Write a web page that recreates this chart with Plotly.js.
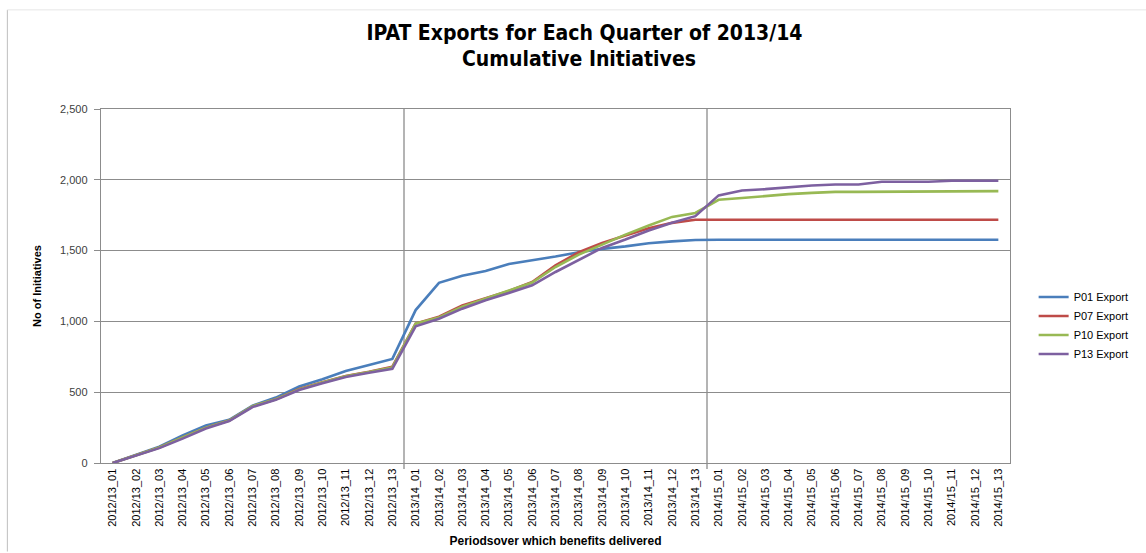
<!DOCTYPE html>
<html>
<head>
<meta charset="utf-8">
<script src="https://cdn.plot.ly/plotly-3.0.1.min.js"></script>
<style>
html,body{margin:0;padding:0;background:#fff;}
#chart{width:1146px;height:553px;}
</style>
</head>
<body>
<div id="chart"></div>
<script>
const categories = [
  "2012/13_01","2012/13_02","2012/13_03","2012/13_04","2012/13_05","2012/13_06","2012/13_07",
  "2012/13_08","2012/13_09","2012/13_10","2012/13_11","2012/13_12","2012/13_13",
  "2013/14_01","2013/14_02","2013/14_03","2013/14_04","2013/14_05","2013/14_06","2013/14_07",
  "2013/14_08","2013/14_09","2013/14_10","2013/14_11","2013/14_12","2013/14_13",
  "2014/15_01","2014/15_02","2014/15_03","2014/15_04","2014/15_05","2014/15_06","2014/15_07",
  "2014/15_08","2014/15_09","2014/15_10","2014/15_11","2014/15_12","2014/15_13"
];
const seriesNames = ["P01 Export","P07 Export","P10 Export","P13 Export"];
const p01 = [0,55,115,195,265,305,405,462,540,592,650,692,735,
  1080,1272,1322,1356,1406,1430,1458,1488,1512,1530,1552,1565,1575,
  1577,1577,1577,1577,1577,1577,1577,1577,1577,1577,1577,1577,1577];
const p07 = [0,55,110,180,250,300,400,450,522,570,615,645,680,
  985,1033,1113,1163,1215,1278,1396,1488,1554,1606,1658,1696,1718,
  1718,1718,1718,1718,1718,1718,1718,1718,1718,1718,1718,1718,1718];
const p10 = [0,55,110,180,250,300,402,450,520,568,612,642,675,
  985,1028,1103,1160,1213,1275,1384,1472,1542,1613,1677,1738,1766,
  1859,1871,1887,1899,1908,1915,1915,1915,1915,1915,1920,1920,1920];
const p13 = [0,50,105,172,243,296,395,446,516,563,608,638,665,
  965,1019,1090,1149,1200,1255,1349,1436,1519,1578,1642,1696,1743,
  1890,1925,1934,1948,1960,1967,1967,1986,1986,1986,1993,1993,1993];
const quarterBreaks = [12.5, 25.5];
const colors = ["#4a7ebb","#be4b48","#98b954","#7d60a0"];
const titleLine1 = 'IPAT Exports for Each Quarter of 2013/14';
const titleLine2 = 'Cumulative Initiatives';

const idx = categories.map((c,i)=>i);
const data = [p01,p07,p10,p13].map((v,k)=>({
  x: idx, y: v, type:'scatter', mode:'lines', name: seriesNames[k],
  line:{color:colors[k], width:2.6}
}));

const shapes = quarterBreaks.map(b=>({
  type:'line', xref:'x', yref:'paper', x0:b, x1:b, y0:-0.017, y1:1,
  line:{color:'#8c8c8c', width:1.3}, layer:'below'
}));
// outer chart frame
shapes.push({type:'line', xref:'paper', yref:'paper', x0:-0.103, x1:-0.103, y0:-0.25, y1:1.28,
  line:{color:'#bfbfbf', width:1}});
shapes.push({type:'line', xref:'paper', yref:'paper', x0:-0.103, x1:1.15, y0:1.28, y1:1.28,
  line:{color:'#e6e6e6', width:1}});

const titleFont = {family:'"DejaVu Sans Condensed","Liberation Sans Narrow",Arial,sans-serif', size:21, color:'#000', weight:'bold'};

const layout = {
  width:1146, height:553,
  margin:{l:101, r:133, t:109, b:90},
  paper_bgcolor:'#ffffff', plot_bgcolor:'#ffffff',
  title:{text:titleLine1, x:0.51, xanchor:'center', y:0.941, yanchor:'middle', font:titleFont},
  annotations:[{text:titleLine2, xref:'paper', yref:'paper', x:0.526, y:1.14,
    xanchor:'center', yanchor:'middle', showarrow:false, font:titleFont}],
  showlegend:true,
  legend:{x:1.026, xanchor:'left', y:0.51, yanchor:'top', bgcolor:'rgba(0,0,0,0)',
    font:{family:'"Liberation Sans",Arial,sans-serif', size:11, color:'#000'}, itemwidth:30, tracegroupgap:0},
  xaxis:{
    range:[-0.5, 38.5], tickmode:'array', tickvals:idx, ticktext:categories,
    tickangle:-90, showgrid:false, zeroline:false, ticks:'', showline:true, linecolor:'#8c8c8c', linewidth:1.3,
    mirror:true,
    tickfont:{family:'"Liberation Sans Narrow","Liberation Sans",Arial,sans-serif', size:11, color:'#000'},
    title:{text:'Periodsover which benefits delivered', standoff:10,
      font:{family:'"Liberation Sans Narrow","Liberation Sans",Arial,sans-serif', size:12, color:'#000', weight:'bold'}}
  },
  yaxis:{
    range:[0,2500], tickvals:[0,500,1000,1500,2000,2500], ticktext:['0','500','1,000','1,500','2,000','2,500'],
    showgrid:true, gridcolor:'#8c8c8c', gridwidth:1, zeroline:false, showline:true, linecolor:'#8c8c8c', linewidth:1.3,
    mirror:true, ticks:'outside', ticklen:6, tickcolor:'#8c8c8c', ticklabelstandoff:4,
    tickfont:{family:'"Liberation Sans",Arial,sans-serif', size:11, color:'#404040'},
    title:{text:'No of Initiatives', standoff:16,
      font:{family:'"Liberation Sans Narrow","Liberation Sans",Arial,sans-serif', size:11, color:'#000', weight:'bold'}}
  },
  shapes: shapes
};
Plotly.newPlot('chart', data, layout, {displayModeBar:false, staticPlot:true});
</script>
</body>
</html>
